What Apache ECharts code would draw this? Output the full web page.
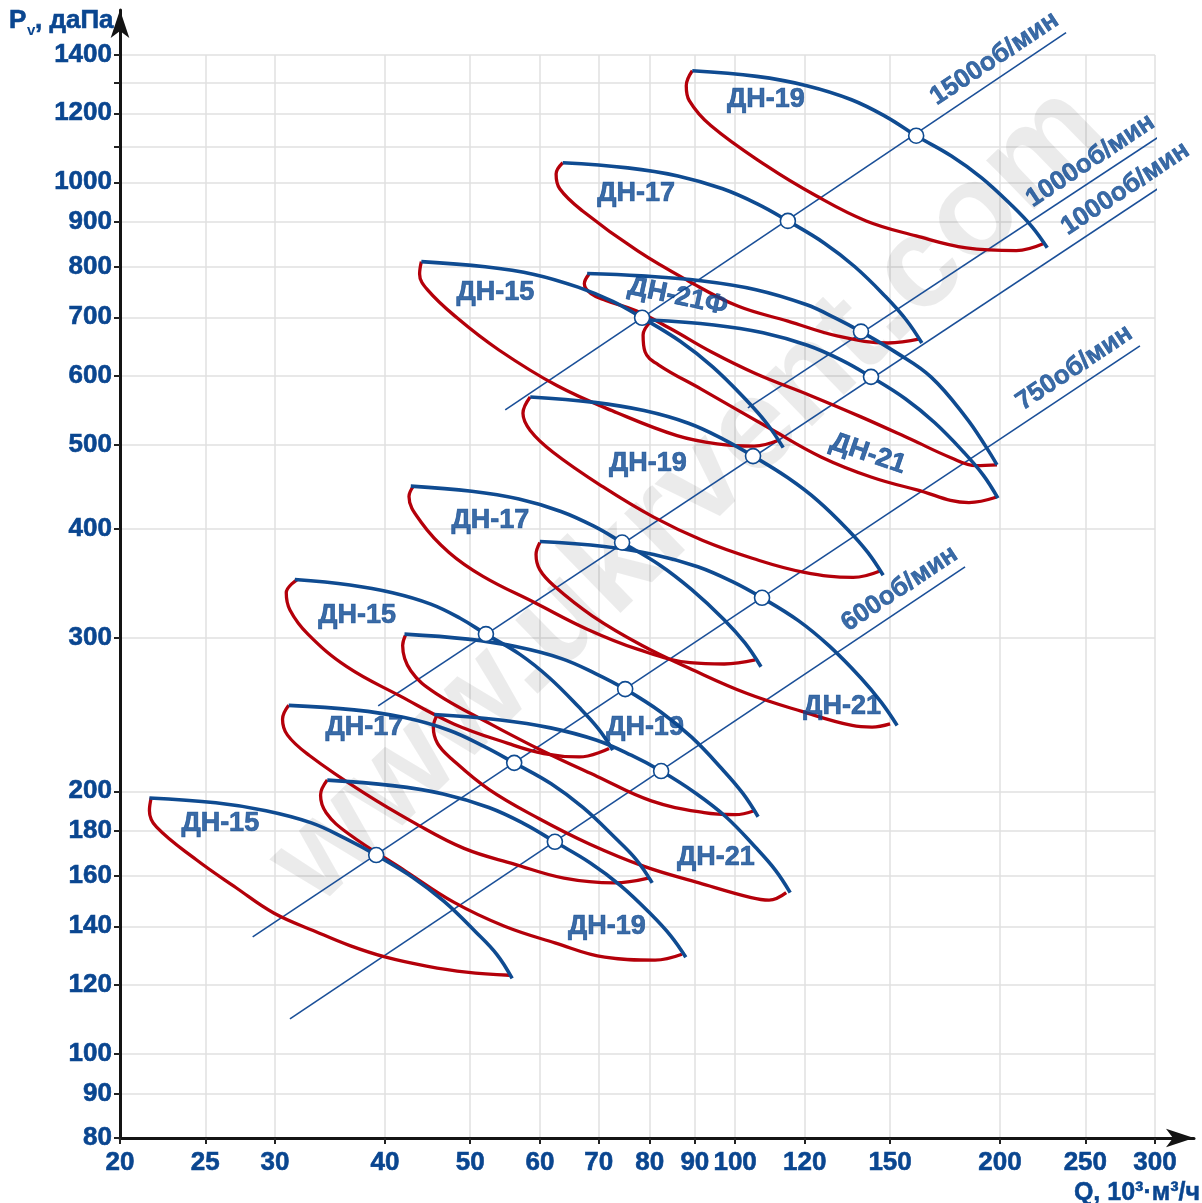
<!DOCTYPE html>
<html><head><meta charset="utf-8">
<script src="https://cdn.jsdelivr.net/npm/echarts@6/dist/echarts.min.js"></script>
<style>html,body{margin:0;padding:0;background:#fff}#c{width:1202px;height:1203px}</style>
</head><body><div id="c"></div>
<script>
// ---- axis ticks ----
const xTicks = [20,25,30,40,50,60,70,80,90,100,120,150,200,250,300];
const yLabelTicks = [80,90,100,120,140,160,180,200,300,400,500,600,700,800,900,1000,1200,1400];
const yTicks = [80,90,100,120,140,160,180,200,300,400,500,600,700,800,900,1000,1100,1200,1300,1400];

// ---- characteristic curves [Q (10^3 m3/h), Pv (daPa)] ----
const dn19_1500_blue = [[89.4,1343],[105.8,1323],[120.6,1291],[135.6,1244],[148.5,1189],[160.6,1131],[176.1,1072],[190.6,1012],[206.4,940],[217.5,889],[226.3,841]];
const dn19_1500_red  = [[89.4,1343],[88.0,1291],[88.7,1241],[93.9,1161],[108.5,1045],[123.6,965],[140.9,903],[160.6,868],[183.1,841],[208.7,835],[223.9,850]];
const dn17_1500_blue = [[63.7,1053],[75.5,1039],[86.1,1017],[96.8,983],[106.1,944],[114.8,903],[126.2,852],[136.8,800],[148.3,739],[156.5,695],[163.0,654]];
const dn17_1500_red  = [[63.7,1053],[62.6,1022],[63.2,983],[67.1,927],[77.5,834],[88.4,771],[100.7,721],[114.8,693],[130.9,666],[149.2,654],[162.2,661]];
const dn15_1500_blue = [[44.0,811],[52.0,800],[59.1,784],[66.3,758],[72.6,730],[78.4,699],[86.6,657],[94.3,614],[102.7,564],[108.6,529],[113.4,496]];
const dn15_1500_red  = [[44.0,811],[43.8,785],[44.7,753],[48.3,699],[53.9,642],[62.8,584],[73.4,544],[85.9,512],[95.4,501],[105.1,498],[112.2,506]];
const dn21f_1000_blue = [[67.9,786],[78.2,781],[91.4,771],[105.6,753],[120.4,724],[130.2,698],[139.0,674],[152.3,638],[166.9,598],[183.0,537],[192.8,497],[198.4,474]];
const dn21f_1000_red  = [[68.2,784],[67.4,765],[68.6,745],[71.3,732],[77.2,712],[84.5,679],[93.9,639],[105.6,603],[121.9,569],[139.0,538],[158.4,507],[175.9,483],[187.8,473],[198.4,474]];
const dn21_1000_blue = [[80.0,695],[94.6,686],[107.6,672],[120.8,650],[132.1,625],[142.7,598],[156.1,564.5],[168.5,530],[181.9,490],[191.5,461],[198.9,434]];
const dn21_1000_red  = [[80.2,692],[78.6,668],[79.0,639],[81.9,617],[91.5,579],[109.8,521],[125.2,484],[142.7,459],[160.5,444],[184.4,429],[197.9,435]];
const dn19_1000_blue = [[58.5,567],[69.2,559],[78.8,547],[88.5,529],[97.0,507],[104.8,485],[114.8,458],[124.2,431],[134.4,399],[141.5,376],[147.3,354]];
const dn19_1000_red  = [[58.5,567],[57.4,543],[58.5,519],[62.1,490],[70.8,447],[80.7,413],[91.9,388],[104.8,370],[119.5,357],[136.2,352],[146.1,358]];
const dn17_1000_blue = [[42.8,448],[50.2,442],[56.8,433],[63.4,419],[69.1,403],[74.4,386],[82.0,364],[89.2,341],[97.1,315],[102.6,296],[107.0,278]];
const dn17_1000_red  = [[43.1,448],[42.6,436],[44.0,407],[47.3,376],[51.7,353],[59.3,329],[67.9,307],[77.6,291],[88.9,281],[97.2,280],[105.4,283]];
const dn21_750_blue = [[60.0,387],[71.0,382],[80.8,374],[90.7,362],[99.3,348],[107.3,333.5],[118.0,314],[128.0,293.5],[138.9,270],[146.6,253],[152.8,238]];
const dn21_750_red  = [[60.0,386],[59.4,374],[60.0,359],[62.3,344],[68.8,318],[78.4,294],[89.3,276],[103.2,259],[119.1,247],[135.8,238],[143.1,237],[150.0,239]];
const dn15_1000_blue = [[31.6,350],[36.5,345],[40.8,338],[45.1,328],[48.7,316],[52.1,303],[57.0,287],[61.5,270],[66.4,250],[69.9,236],[72.6,223]];
const dn15_1000_red  = [[31.8,350],[30.9,338],[31.2,323],[32.7,303],[36.2,278],[41.7,257],[47.9,239],[55.2,227],[60.6,221],[66.5,219],[71.9,224]];
const dn19_750_blue = [[42.1,303],[49.7,299],[56.5,293],[63.5,284],[69.4,273],[75.0,262],[82.4,246.5],[89.3,230.6],[96.7,212],[102.0,199],[106.2,187]];
const dn19_750_red  = [[42.2,302],[41.9,294],[42.8,275],[45.7,259],[52.7,239],[60.7,222],[69.7,208],[80.3,195],[92.2,189],[100.0,188],[105.1,190]];
const dn17_750_blue = [[31.1,251],[36.9,248],[42.1,243],[47.3,235],[51.9,225],[56.1,215.6],[61.8,204],[67.2,191.5],[73.0,177],[77.2,167],[80.5,157]];
const dn17_750_red  = [[31.1,251],[30.6,242],[31.0,232],[32.8,220],[37.9,199],[43.2,184],[49.2,172],[56.1,165],[63.9,159],[72.9,157],[79.7,159]];
const dn15_750_blue = [[21.6,196.5],[25.7,194],[29.3,190],[33.0,184],[36.1,176.5],[39.1,169],[43.0,159.4],[46.7,149.5],[50.7,138],[53.6,130],[55.8,122]];
const dn15_750_red  = [[21.7,196.5],[21.6,190],[22.0,182],[24.4,167],[27.1,155],[29.9,145],[33.4,138],[36.5,133],[40.1,129],[44.6,126],[49.5,124],[55.4,123]];
const dn21_600_blue = [[45.5,245],[54.1,241.5],[61.7,236.5],[69.5,229],[76.2,220],[82.4,211],[90.2,199],[97.6,187],[105.4,172.6],[111.1,162.4],[115.5,153]];
const dn21_600_red  = [[45.9,245],[45.4,237],[45.9,227],[47.6,218],[52.5,201],[59.9,186],[68.3,174],[78.8,164],[91.0,157],[104.3,151],[109.3,150],[114.3,153]];
const dn19_600_blue = [[34.4,206],[40.8,203],[46.6,198.6],[52.5,191.6],[57.6,183.5],[62.4,175],[68.4,165.6],[74.1,155.9],[80.2,144.6],[84.5,136.5],[87.9,129]];
const dn19_600_red  = [[34.4,206],[33.8,198],[34.3,189],[36.3,179],[42.2,162],[48.0,149],[54.7,140],[62.4,134],[71.1,129],[81.1,128],[87.0,130]];

const blueCurves = [dn19_1500_blue, dn17_1500_blue, dn15_1500_blue, dn21f_1000_blue, dn21_1000_blue, dn19_1000_blue, dn17_1000_blue, dn21_750_blue, dn15_1000_blue, dn19_750_blue, dn17_750_blue, dn15_750_blue, dn21_600_blue, dn19_600_blue];
const redCurves = [dn19_1500_red, dn17_1500_red, dn15_1500_red, dn21f_1000_red, dn21_1000_red, dn19_1000_red, dn17_1000_red, dn21_750_red, dn15_1000_red, dn19_750_red, dn17_750_red, dn15_750_red, dn21_600_red, dn19_600_red];

// ---- best-efficiency points (circles) ----
const bepQ = [160.6, 114.8, 78.4, 139.0, 142.7, 104.8, 74.4, 52.1, 107.3, 75.0, 56.1, 39.1, 82.4, 62.4];
const bepP = [1131, 903, 699, 674, 598, 485, 386, 303, 333.5, 262, 215.6, 169, 211, 175];

// ---- curve labels ----
const labelNames = ['ДН-19','ДН-17','ДН-15','ДН-21Ф','ДН-21','ДН-19','ДН-17','ДН-21','ДН-15','ДН-19','ДН-17','ДН-21','ДН-15','ДН-19'];
const labelQ = [108.4, 77.2, 53.4, 86.1, 141.6, 79.6, 52.7, 132.3, 37.2, 79.0, 37.9, 95.1, 26.0, 71.5];
const labelP = [1244, 970, 747, 739, 488, 476, 409, 250, 318, 237, 237, 168, 183.5, 140];
const labelRot = [0, 0, 0, -12, -19, 0, 0, 0, 0, 0, 0, 0, 0, 0];

// ---- speed lines ----
const speedNames = ['1500об/мин','1000об/мин','1000об/мин','750об/мин','600об/мин'];
const speedFromQ = [54.8, 103.4, 39.3, 28.3, 31.2];
const speedFromP = [548, 551, 250.7, 136.1, 109.6];
const speedToQ = [237.7, 305.6, 334.8, 288.4, 182.5];
const speedToP = [1485, 1134, 1053, 649, 362];

const BLUE = '#0f4b91';
const TXT = '#0a4690';
const RED = '#b4000a';
const FONT = '"Liberation Sans", Arial, sans-serif';

const chart = echarts.init(document.getElementById('c'), null, {renderer: 'canvas'});

const series = [];
speedNames.forEach((n, i) => {
  series.push({
    type: 'line', xAxisIndex: 0, yAxisIndex: 0, clip: false, silent: true, animation: false,
    symbol: 'none', z: 2,
    lineStyle: {color: '#1a4f98', width: 1.6},
    data: [[speedFromQ[i], speedFromP[i]], [speedToQ[i], speedToP[i]]]
  });
});
redCurves.forEach(c => series.push({
  type: 'line', smooth: 0.4, symbol: 'none', silent: true, animation: false, z: 3,
  lineStyle: {color: RED, width: 3.3}, data: c
}));
blueCurves.forEach(c => series.push({
  type: 'line', smooth: 0.4, symbol: 'none', silent: true, animation: false, z: 4,
  lineStyle: {color: BLUE, width: 3.6}, data: c
}));
series.push({
  type: 'scatter', silent: true, animation: false, z: 6, symbol: 'circle', symbolSize: 15,
  itemStyle: {color: '#fff', borderColor: BLUE, borderWidth: 1.6, opacity: 1},
  data: bepQ.map((q, i) => [q, bepP[i]])
});
series.push({
  type: 'scatter', silent: true, animation: false, z: 7, symbolSize: 1, clip: false,
  itemStyle: {color: 'rgba(0,0,0,0)'},
  data: labelNames.map((n, i) => ({name: n, value: [labelQ[i], labelP[i]], label: {rotate: labelRot[i]}})),
  label: {show: true, position: 'inside', formatter: '{b}', color: TXT, fontSize: 27, fontWeight: 'bold', fontFamily: FONT,
    textBorderColor: TXT, textBorderWidth: 0.7}
});
series.push({
  type: 'scatter', silent: true, animation: false, z: 7, symbolSize: 1, clip: false,
  itemStyle: {color: 'rgba(0,0,0,0)'},
  data: speedNames.map((n, i) => ({name: n, value: [speedToQ[i], speedToP[i]]})),
  label: {show: true, position: 'inside', formatter: '{b}', color: TXT, fontSize: 26, fontWeight: 'bold', fontFamily: FONT,
    textBorderColor: TXT, textBorderWidth: 0.6,
    align: 'right', verticalAlign: 'bottom', rotate: 33.6, padding: [0, 0, 5, 0]}
});

const axisLabelStyle = {color: TXT, fontSize: 26, fontWeight: 'bold', fontFamily: FONT, textBorderColor: TXT, textBorderWidth: 0.6};

const option = {
  animation: false,
  backgroundColor: '#fff',
  grid: [
    {left: 120, top: 55, right: 47, bottom: 65, outerBoundsMode: 'none', containLabel: false},
    {left: 120, top: 10, right: 8, bottom: 65, outerBoundsMode: 'none', containLabel: false}
  ],
  xAxis: [
    {type: 'log', logBase: 10, min: 20, max: 300, gridIndex: 0,
     axisLine: {show: false},
     axisTick: {show: true, customValues: xTicks, length: 6, lineStyle: {color: '#222', width: 2}},
     axisLabel: Object.assign({show: true, customValues: xTicks, formatter: v => String(Math.round(v)), margin: 12}, axisLabelStyle),
     splitLine: {show: true, lineStyle: {color: '#e0e0e0', width: 1.5}},
     minorTick: {show: false}, minorSplitLine: {show: false}},
    {type: 'value', min: 0, max: 1, gridIndex: 1,
     axisLine: {show: true, symbol: ['none', 'arrow'], symbolSize: [14, 28], lineStyle: {color: '#141414', width: 3}},
     axisTick: {show: false}, axisLabel: {show: false}, splitLine: {show: false}}
  ],
  yAxis: [
    {type: 'log', logBase: 10, min: 80, max: 1400, gridIndex: 0,
     axisLine: {show: false},
     axisTick: {show: true, customValues: yTicks, length: 6, lineStyle: {color: '#222', width: 2}},
     axisLabel: Object.assign({show: true, customValues: yLabelTicks, formatter: v => String(Math.round(v)), margin: 8}, axisLabelStyle),
     splitLine: {show: true, lineStyle: {color: '#e0e0e0', width: 1.5}},
     minorTick: {show: false}, minorSplitLine: {show: false}},
    {type: 'value', min: 0, max: 1, gridIndex: 1,
     axisLine: {show: true, symbol: ['none', 'arrow'], symbolSize: [14, 28], lineStyle: {color: '#141414', width: 3}},
     axisTick: {show: false}, axisLabel: {show: false}, splitLine: {show: false}}
  ],
  graphic: {elements: [
    {type: 'text', x: 689, y: 496, rotation: 0.773, z: 1, silent: true,
     style: {text: 'www.ukrvent.com', font: 'bold 130px "Liberation Sans", Arial, sans-serif', fill: 'rgba(0,0,0,0.08)', align: 'center', verticalAlign: 'middle'}},
    {type: 'text', x: 9, y: 34, z: 10, style: {text: 'P', font: 'bold 26px "Liberation Sans", Arial, sans-serif', fill: TXT, stroke: TXT, lineWidth: 0.6, verticalAlign: 'bottom'}},
    {type: 'text', x: 27, y: 38, z: 10, style: {text: 'v', font: 'bold 15px "Liberation Sans", Arial, sans-serif', fill: TXT, verticalAlign: 'bottom'}},
    {type: 'text', x: 35, y: 34, z: 10, style: {text: ', даПа', font: 'bold 26px "Liberation Sans", Arial, sans-serif', fill: TXT, stroke: TXT, lineWidth: 0.6, verticalAlign: 'bottom'}},
    {type: 'text', x: 1200, y: 1206, z: 10, style: {text: 'Q, 10³·м³/ч', font: 'bold 25px "Liberation Sans", Arial, sans-serif', fill: TXT, stroke: TXT, lineWidth: 0.5, align: 'right', verticalAlign: 'bottom'}}
  ]},
  series: series
};
chart.setOption(option);
</script>
</body></html>
